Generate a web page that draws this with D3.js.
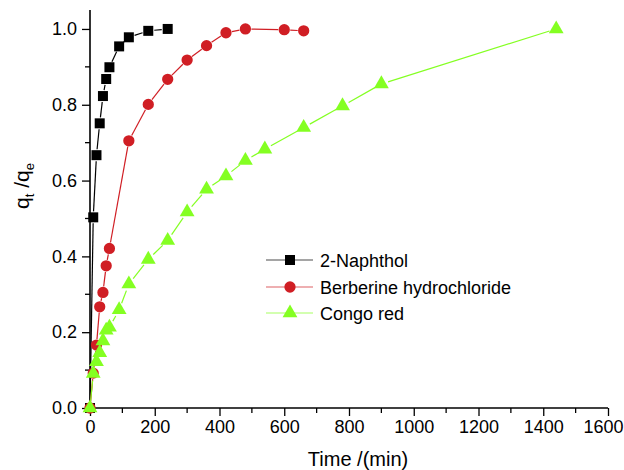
<!DOCTYPE html>
<html>
<head>
<meta charset="utf-8">
<script src="https://cdn.jsdelivr.net/npm/d3@7/dist/d3.min.js"></script>
<style>
  html, body { margin: 0; padding: 0; background: #fff; }
  svg { display: block; font-family: "Liberation Sans", Arial, sans-serif; }
</style>
</head>
<body>
<div id="chart"></div>
<script>
// ---- data ----
const naphtholTime = [0, 10, 20, 30, 40, 50, 60, 90, 120, 180, 240];
const naphtholQ    = [0, 0.503, 0.667, 0.751, 0.823, 0.868, 0.899, 0.954, 0.978, 0.995, 1.0];

const berberineTime = [0, 10, 20, 30, 40, 50, 60, 120, 180, 240, 300, 360, 420, 480, 600, 660];
const berberineQ    = [0, 0.092, 0.166, 0.267, 0.305, 0.375, 0.421, 0.705, 0.801, 0.867, 0.918, 0.956, 0.990, 1.0, 0.998, 0.995];

const congoTime = [0, 10, 20, 30, 40, 50, 60, 90, 120, 180, 240, 300, 360, 420, 480, 540, 660, 780, 900, 1440];
const congoQ    = [0, 0.091, 0.122, 0.146, 0.177, 0.205, 0.213, 0.259, 0.327, 0.392, 0.442, 0.517, 0.577, 0.612, 0.653, 0.683, 0.740, 0.797, 0.855, 1.0];

const seriesNames = ["2-Naphthol", "Berberine hydrochloride", "Congo red"];
const xTicks = [0, 200, 400, 600, 800, 1000, 1200, 1400, 1600];
const xMinorTicks = [100, 300, 500, 700, 900, 1100, 1300, 1500];
const yTicks = [0, 0.2, 0.4, 0.6, 0.8, 1.0];
const yMinorTicks = [0.1, 0.3, 0.5, 0.7, 0.9];

// ---- layout ----
const W = 624, H = 470;
const mLeft = 90, mRight = 608, mTop = 10, mBottom = 408;

const svg = d3.select("#chart").append("svg").attr("width", W).attr("height", H);

const x = d3.scaleLinear().domain([0, 1600]).range([mLeft, mRight]);
const y = d3.scaleLinear().domain([0, 1.05]).range([mBottom, mTop]);

// axes
const xAxis = d3.axisBottom(x).tickValues(xTicks).tickSize(8).tickPadding(4).tickFormat(d3.format("d"));
const gx = svg.append("g").attr("transform", `translate(0,${mBottom})`).call(xAxis);
gx.append("g").selectAll("line").data(xMinorTicks).join("line")
  .attr("x1", d => x(d)).attr("x2", d => x(d)).attr("y1", 0).attr("y2", 5)
  .attr("stroke", "#000").attr("stroke-width", 1.3);

const yAxis = d3.axisLeft(y).tickValues(yTicks).tickSize(8).tickPadding(5).tickFormat(d3.format(".1f"));
const gy = svg.append("g").attr("transform", `translate(${mLeft},0)`).call(yAxis);
gy.append("g").selectAll("line").data(yMinorTicks).join("line")
  .attr("y1", d => y(d)).attr("y2", d => y(d)).attr("x1", 0).attr("x2", -5)
  .attr("stroke", "#000").attr("stroke-width", 1.3);

[gx, gy].forEach(g => {
  g.select(".domain").attr("stroke", "#000").attr("stroke-width", 1.6);
  g.selectAll(".tick line").attr("stroke", "#000").attr("stroke-width", 1.3);
  g.selectAll(".tick text").attr("font-size", 18).attr("fill", "#000")
    .attr("font-family", "'Liberation Sans', Arial, sans-serif");
});
gx.select(".domain").attr("d", `M${mLeft},0H${mRight}`);
gy.select(".domain").attr("d", `M0,${mBottom}V${mTop}`);

// keep the last x tick label inside the picture
gx.selectAll(".tick text").each(function(d) {
  const bb = this.getBBox();
  const right = x(d) + bb.x + bb.width;
  if (right > W - 1) d3.select(this).attr("dx", (W - 1 - right) + "px");
});

// titles
svg.append("text").attr("x", 358).attr("y", 466).attr("text-anchor", "middle")
  .attr("font-size", 20).attr("fill", "#000").text("Time /(min)");

const yt = svg.append("text").attr("transform", "translate(29,186) rotate(-90)")
  .attr("text-anchor", "middle").attr("font-size", 21).attr("fill", "#000");
yt.append("tspan").text("q");
yt.append("tspan").attr("font-size", 13).attr("dy", 5).text("t");
yt.append("tspan").attr("dy", -5).text(" /q");
yt.append("tspan").attr("font-size", 13).attr("dy", 5).text("e");

// series
const series = [
  { name: seriesNames[0], t: naphtholTime, q: naphtholQ, color: "#000000", line: "#000000", symbol: d3.symbolSquare, size: 100, gap: 6 },
  { name: seriesNames[1], t: berberineTime, q: berberineQ, color: "#d01e24", line: "#d01e24", symbol: d3.symbolCircle, size: 100, gap: 6 },
  { name: seriesNames[2], t: congoTime, q: congoQ, color: "#84ff22", line: "#84ff22", symbol: d3.symbolTriangle, size: 95, gap: 7 }
];

series.forEach(s => {
  const pts = s.t.map((t, i) => [x(t), y(s.q[i])]);
  const g = svg.append("g");
  for (let i = 0; i < pts.length - 1; i++) {
    const [x1, y1] = pts[i], [x2, y2] = pts[i + 1];
    const dx = x2 - x1, dy = y2 - y1, L = Math.hypot(dx, dy);
    if (L <= 2 * s.gap + 1) continue;
    const ux = dx / L, uy = dy / L;
    g.append("line")
      .attr("x1", x1 + ux * s.gap).attr("y1", y1 + uy * s.gap)
      .attr("x2", x2 - ux * s.gap).attr("y2", y2 - uy * s.gap)
      .attr("stroke", s.line).attr("stroke-width", 1.2);
  }
  g.selectAll("path.m").data(pts).join("path").attr("class", "m")
    .attr("transform", d => `translate(${d[0]},${d[1]})`)
    .attr("d", d3.symbol().type(s.symbol).size(s.size))
    .attr("fill", s.color);
});

// legend
const legX = 266, legY = [260, 287, 313];
series.forEach((s, i) => {
  const g = svg.append("g").attr("transform", `translate(${legX},${legY[i]})`);
  g.append("line").attr("x1", 0).attr("x2", 47).attr("y1", 0).attr("y2", 0)
    .attr("stroke", s.line).attr("stroke-width", 1.2).attr("opacity", 0.7);
  g.append("path").attr("transform", "translate(24,0)")
    .attr("d", d3.symbol().type(s.symbol).size(s.size)).attr("fill", s.color);
  g.append("text").attr("x", 54).attr("y", 6.5).attr("font-size", 18).attr("fill", "#000").text(s.name);
});
</script>
</body>
</html>
